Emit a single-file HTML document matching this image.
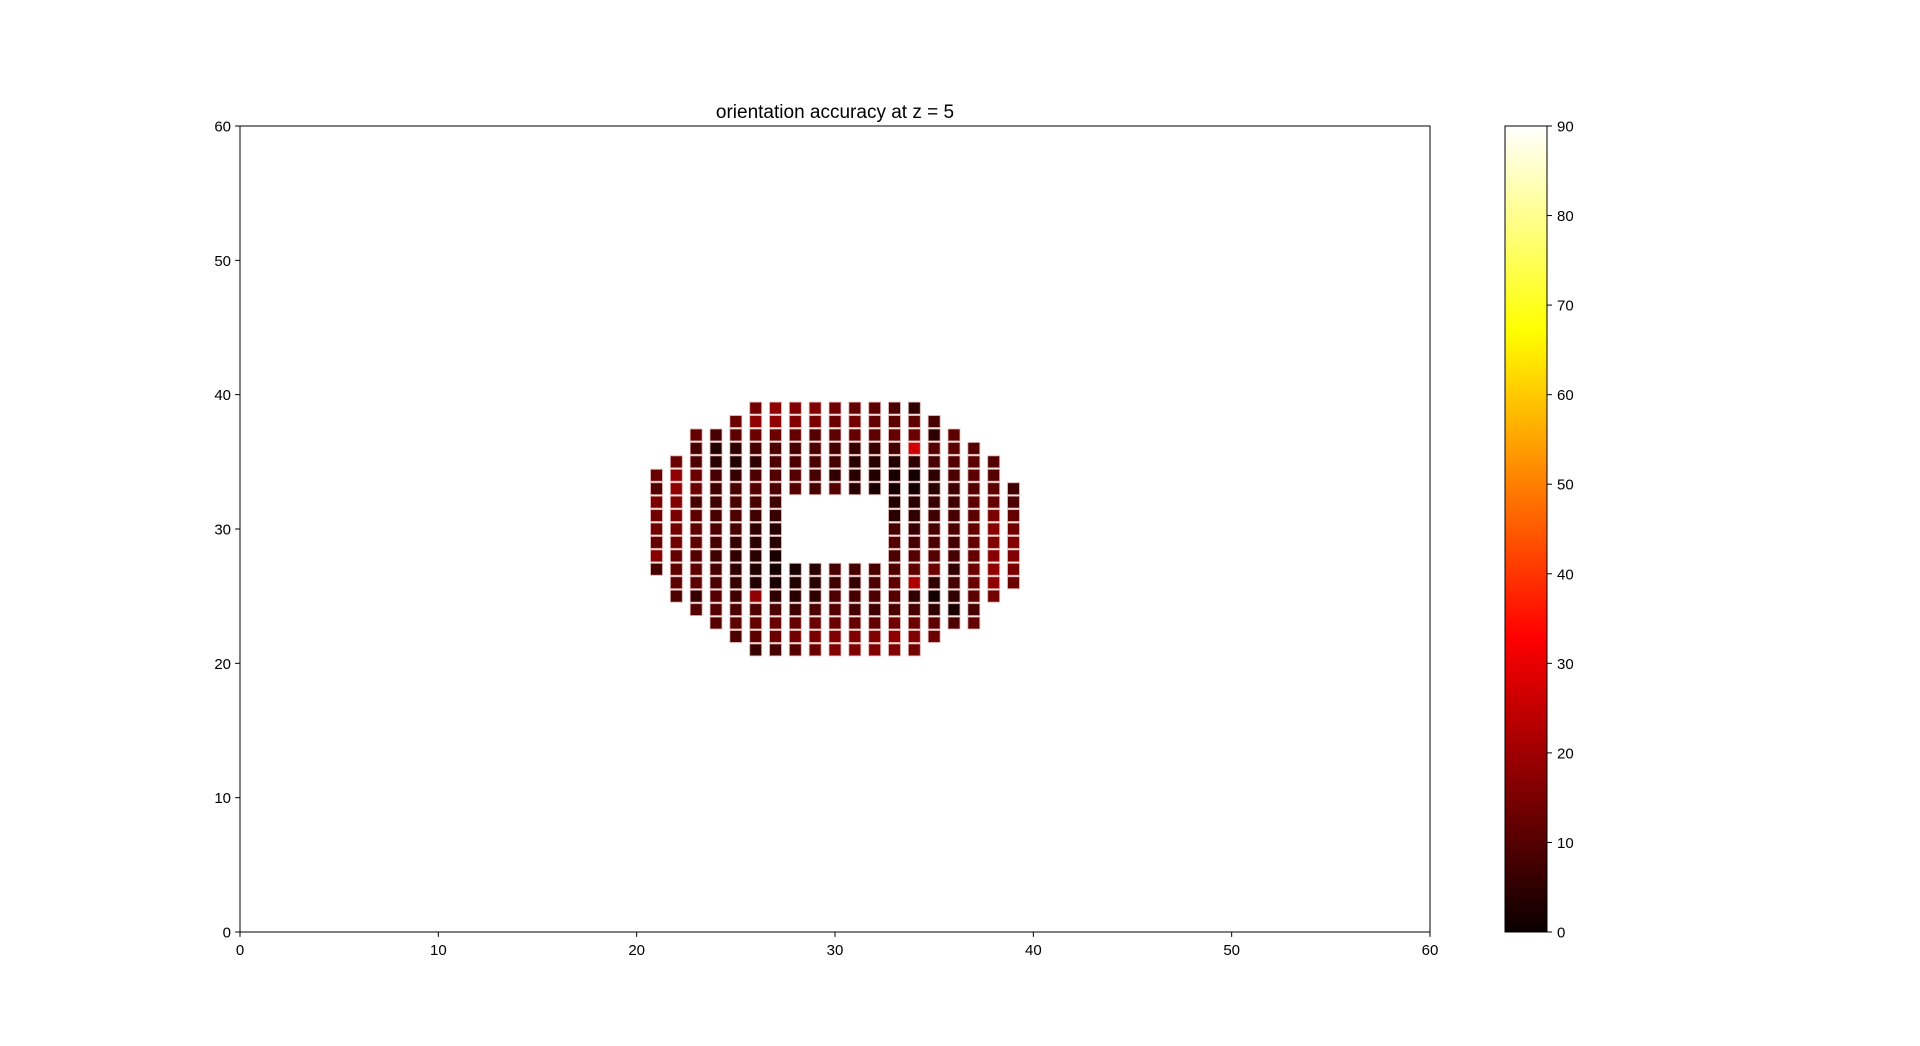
<!DOCTYPE html>
<html><head><meta charset="utf-8">
<style>
html,body{margin:0;padding:0;background:#fff;}
svg{display:block;font-family:"Liberation Sans","DejaVu Sans",sans-serif;}
</style></head>
<body>
<svg id="chart" width="1920" height="1046" viewBox="0 0 1920 1046" xmlns="http://www.w3.org/2000/svg">
<rect x="0" y="0" width="1920" height="1046" fill="#fff"/>
<text x="835" y="118" font-size="19" text-anchor="middle" fill="#000">orientation accuracy at z = 5</text>
<g id="cells"></g>
<rect x="240" y="126" width="1190" height="806" fill="none" stroke="#000" stroke-width="1"/>
<g id="xticks"></g>
<g id="yticks"></g>
<defs>
<linearGradient id="hotgrad" x1="0" y1="1" x2="0" y2="0">
<stop offset="0" stop-color="#0a0000"/>
<stop offset="0.365" stop-color="#ff0000"/>
<stop offset="0.746" stop-color="#ffff00"/>
<stop offset="1" stop-color="#ffffff"/>
</linearGradient>
</defs>
<rect x="1505" y="126" width="42" height="806" fill="url(#hotgrad)" stroke="#000" stroke-width="1"/>
<g id="cbticks"></g>
</svg>
<script>
const rowYs = [39,38,37,36,35,34,33,32,31,30,29,28,27,26,25,24,23,22,21];
const rowStart = [26,25,23,23,22,21,21,21,21,21,21,21,21,22,22,23,24,25,26];
const rowValues = [
 [14,18,16,16,14,12,11,9,5],
 [13,18,18,16,15,13,14,12,11,11,8],
 [12,8,11,13,13,12,10,11,12,11,12,13,5,11],
 [8,3,5,8,9,8,9,8,6,6,8,27,10,11,10],
 [13,9,4,3,5,9,9,9,8,4,4,3,5,8,10,11,10],
 [13,18,13,8,6,9,10,10,8,5,4,3,2,1,5,9,11,10],
 [10,18,13,7,8,10,9,10,8,10,4,2,1,1,4,7,10,11,7],
 [15,16,8,7,8,8,7,null,null,null,null,null,3,4,6,7,11,12,9],
 [14,15,11,8,9,7,6,null,null,null,null,null,4,5,7,8,11,15,12],
 [14,14,11,9,8,5,4,null,null,null,null,null,8,6,8,9,12,17,14],
 [12,14,11,8,6,4,4,null,null,null,null,null,10,8,9,8,12,16,16],
 [17,12,10,7,5,4,2,null,null,null,null,null,9,10,10,8,12,17,16],
 [8,11,11,8,5,3,1,2,4,8,8,8,9,11,13,5,13,18,15],
 [11,11,9,6,3,2,3,4,7,6,9,11,22,5,8,13,18,13],
 [9,6,10,7,18,5,4,5,9,8,9,10,5,1,5,11,14],
 [10,10,9,9,9,7,9,10,8,7,9,8,5,2,8],
 [10,11,12,13,12,13,13,12,12,14,13,11,9,12],
 [9,11,13,14,15,16,16,16,18,16,13],
 [6,8,10,13,16,16,16,16,14]
];
const xTicks = [0,10,20,30,40,50,60];
const yTicks = [0,10,20,30,40,50,60];
const cbTicks = [0,10,20,30,40,50,60,70,80,90];

const NS = "http://www.w3.org/2000/svg";
const X0=240, X1=1430, Y0=932, Y1=126;
function xs(v){return X0 + (v-0)/(60-0)*(X1-X0);}
function ys(v){return Y0 - (v-0)/(60-0)*(Y0-Y1);}
function cbY(v){return 932 - v/90*806;}
function hot(v){
  const t=Math.max(0,Math.min(1,v/90));
  const r=Math.min(1,t/0.365079)*0.96+0.04;
  const g=Math.max(0,Math.min(1,(t-0.365079)/(0.746032-0.365079)));
  const b=Math.max(0,Math.min(1,(t-0.746032)/(1-0.746032)));
  return `rgb(${Math.round(r*255)},${Math.round(g*255)},${Math.round(b*255)})`;
}
const cells=document.getElementById('cells');
const S=12;
rowYs.forEach((y,ri)=>{
  rowValues[ri].forEach((v,ci)=>{
    if(v===null) return;
    const x=rowStart[ri]+ci;
    const r=document.createElementNS(NS,'rect');
    r.setAttribute('x',(xs(x)-S/2).toFixed(2));
    r.setAttribute('y',(ys(y)-S/2).toFixed(2));
    r.setAttribute('width',S);r.setAttribute('height',S);
    r.setAttribute('fill',hot(v));
    r.setAttribute('stroke','rgba(230,190,190,0.8)');
    r.setAttribute('stroke-width','1');
    
    
    cells.appendChild(r);
  });
});
const xg=document.getElementById('xticks');
xTicks.forEach(t=>{
  const l=document.createElementNS(NS,'line');
  l.setAttribute('x1',xs(t));l.setAttribute('x2',xs(t));
  l.setAttribute('y1',Y0);l.setAttribute('y2',Y0+4.9);
  l.setAttribute('stroke','#000');
  
  
  xg.appendChild(l);
  const tx=document.createElementNS(NS,'text');
  tx.setAttribute('x',xs(t));tx.setAttribute('y',Y0+23);
  tx.setAttribute('font-size','15');tx.setAttribute('text-anchor','middle');
  tx.textContent=t;
  
  
  xg.appendChild(tx);
});
const yg=document.getElementById('yticks');
yTicks.forEach(t=>{
  const l=document.createElementNS(NS,'line');
  l.setAttribute('x1',X0-4.9);l.setAttribute('x2',X0);
  l.setAttribute('y1',ys(t));l.setAttribute('y2',ys(t));
  l.setAttribute('stroke','#000');
  
  
  yg.appendChild(l);
  const tx=document.createElementNS(NS,'text');
  tx.setAttribute('x',X0-9);tx.setAttribute('y',ys(t)+5.5);
  tx.setAttribute('font-size','15');tx.setAttribute('text-anchor','end');
  tx.textContent=t;
  
  
  yg.appendChild(tx);
});
const cg=document.getElementById('cbticks');
cbTicks.forEach(t=>{
  const l=document.createElementNS(NS,'line');
  l.setAttribute('x1',1547);l.setAttribute('x2',1552);
  l.setAttribute('y1',cbY(t));l.setAttribute('y2',cbY(t));
  l.setAttribute('stroke','#000');
  
  
  cg.appendChild(l);
  const tx=document.createElementNS(NS,'text');
  tx.setAttribute('x',1557);tx.setAttribute('y',cbY(t)+5.5);
  tx.setAttribute('font-size','15');
  tx.textContent=t;
  
  
  cg.appendChild(tx);
});
</script>
</body></html>
